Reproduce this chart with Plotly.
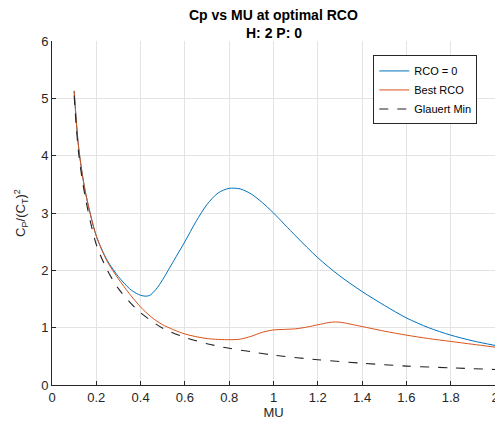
import plotly.graph_objects as go

# Data
mu_rco0 = [0.10, 0.12, 0.15, 0.20, 0.25, 0.30, 0.35, 0.38, 0.40, 0.42, 0.44, 0.47, 0.50, 0.55,
           0.60, 0.65, 0.70, 0.75, 0.80, 0.85, 0.90, 0.95, 1.00, 1.10, 1.20, 1.30, 1.40, 1.50,
           1.60, 1.70, 1.80, 1.90, 2.00]
cp_rco0 = [5.13, 4.15, 3.38, 2.60, 2.17, 1.89, 1.68, 1.60, 1.565, 1.55, 1.56, 1.67, 1.84, 2.17,
           2.50, 2.85, 3.15, 3.35, 3.43, 3.42, 3.33, 3.18, 3.00, 2.60, 2.22, 1.90, 1.63, 1.39,
           1.17, 1.00, 0.87, 0.77, 0.69]

mu_best = [0.10, 0.12, 0.15, 0.20, 0.25, 0.30, 0.35, 0.40, 0.45, 0.50, 0.60, 0.70, 0.80, 0.85,
           0.90, 0.95, 1.00, 1.05, 1.10, 1.15, 1.20, 1.25, 1.28, 1.31, 1.35, 1.40, 1.50, 1.60,
           1.70, 1.80, 1.90, 2.00]
cp_best = [5.13, 4.15, 3.38, 2.60, 2.15, 1.85, 1.59, 1.36, 1.18, 1.05, 0.89, 0.81, 0.79, 0.80,
           0.85, 0.92, 0.96, 0.97, 0.98, 1.01, 1.05, 1.09, 1.10, 1.09, 1.06, 1.02, 0.94, 0.87,
           0.81, 0.76, 0.71, 0.66]

mu_glauert = [0.10, 0.12, 0.15, 0.20, 0.25, 0.30, 0.35, 0.40, 0.50, 0.60, 0.70, 0.80, 0.90,
              1.00, 1.20, 1.40, 1.60, 1.80, 2.00]
cp_glauert = [5.05, 4.05, 3.28, 2.45, 2.00, 1.68, 1.45, 1.26, 0.99, 0.83, 0.72, 0.64, 0.58,
              0.52, 0.44, 0.38, 0.33, 0.30, 0.27]

x_ticks = [0, 0.2, 0.4, 0.6, 0.8, 1, 1.2, 1.4, 1.6, 1.8, 2]
x_tick_labels = ["0", "0.2", "0.4", "0.6", "0.8", "1", "1.2", "1.4", "1.6", "1.8", "2"]
y_ticks = [0, 1, 2, 3, 4, 5, 6]
title_lines = ["Cp vs MU at optimal RCO", "H: 2 P: 0"]

FONT = "Liberation Sans, Arial, sans-serif"
AX = "#262626"
GRID = "#e3e3e3"

fig = go.Figure()
fig.add_trace(go.Scatter(x=mu_rco0, y=cp_rco0, mode="lines", name="RCO = 0",
                         line=dict(color="#0072BD", width=1, shape="spline", smoothing=0.8)))
fig.add_trace(go.Scatter(x=mu_best, y=cp_best, mode="lines", name="Best RCO",
                         line=dict(color="#D95319", width=1, shape="spline", smoothing=0.8)))
fig.add_trace(go.Scatter(x=mu_glauert, y=cp_glauert, mode="lines", name="Glauert Min",
                         line=dict(color="#222222", width=1.1, dash="dash", shape="spline",
                                   smoothing=0.8)))

fig.add_annotation(text="<b>" + title_lines[0] + "</b>", x=0.5, xref="paper",
                   y=1.075, yref="paper", yanchor="middle", showarrow=False,
                   font=dict(family=FONT, size=14, color="black"))
fig.add_annotation(text="<b>" + title_lines[1] + "</b>", x=0.5, xref="paper",
                   y=1.024, yref="paper", yanchor="middle", showarrow=False,
                   font=dict(family=FONT, size=14, color="black"))

# The page body adds an 8px offset, so the figure is a little smaller than the window.
fig.update_layout(
    width=495, height=421,
    margin=dict(l=44, r=8, t=33, b=44),
    paper_bgcolor="white", plot_bgcolor="white",
    font=dict(family=FONT, size=13, color=AX),
    showlegend=True,
    legend=dict(x=0.96, xanchor="right", y=0.958, yanchor="top",
                bgcolor="white", bordercolor=AX, borderwidth=1,
                font=dict(family=FONT, size=11, color="black"),
                itemwidth=30, tracegroupgap=0),
    xaxis=dict(range=[0, 2], tickvals=x_ticks, ticktext=x_tick_labels,
               automargin=False, ticklabeloverflow="allow",
               showgrid=True, gridcolor=GRID, gridwidth=1,
               showline=True, linecolor=AX, linewidth=1, mirror=False,
               ticks="inside", ticklen=4, tickcolor=AX, zeroline=False,
               tickfont=dict(size=13, color=AX),
               title=dict(text="MU", font=dict(size=13, color=AX), standoff=2)),
    yaxis=dict(range=[0, 6], tickvals=y_ticks,
               automargin=False, ticklabeloverflow="allow",
               showgrid=True, gridcolor=GRID, gridwidth=1,
               showline=True, linecolor=AX, linewidth=1, mirror=False,
               ticks="inside", ticklen=4, tickcolor=AX, zeroline=False,
               tickfont=dict(size=13, color=AX),
               title=dict(text="C<sub>P</sub>/(C<sub>T</sub>)<sup>2</sup>",
                          font=dict(size=13, color=AX), standoff=12)),
)

fig.write_html("out.html")
